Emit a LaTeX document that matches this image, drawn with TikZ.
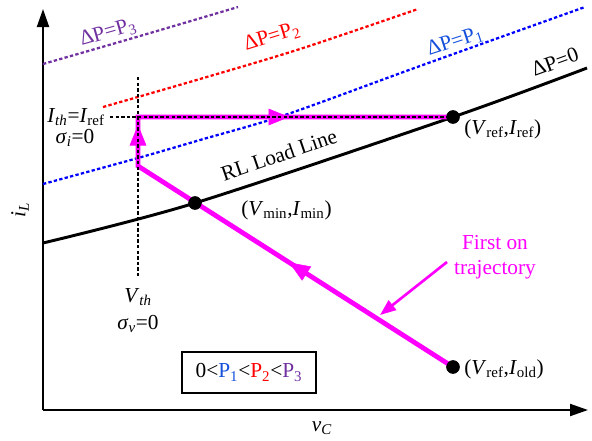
\documentclass[tikz,border=0pt]{standalone}
\usepackage{fontspec}
\setmainfont{Liberation Serif}
\usetikzlibrary{arrows.meta,decorations.markings}
\definecolor{mag}{RGB}{255,0,255}
\definecolor{pur}{RGB}{112,48,160}
\definecolor{rd}{RGB}{255,0,0}
\definecolor{bl}{RGB}{0,0,255}
\definecolor{blt}{RGB}{20,80,220}
\newcommand\mysub[1]{\textsubscript{#1}}
\begin{document}
\begin{tikzpicture}[x=0.75pt,y=-0.75pt,
  font=\fontsize{16}{19}\selectfont,
  lbl/.style={inner sep=0pt},
  dotline/.style={line width=1.7pt, dash pattern=on 2.5pt off 1.7pt},
  axis/.style={line width=1.5pt, -{Triangle[length=13.5pt,width=9pt]}},
  traj/.style={mag, line width=3.6pt, line join=miter},
  marr/.style={mag, postaction={decorate}, decoration={markings, mark=at position #1 with {\arrow{Triangle[length=15.5pt,width=12.5pt]}}}},
  dot/.style={circle, fill=black, inner sep=0pt, minimum size=10pt}]
\useasboundingbox (0,0) rectangle (592,440);
% axes
\coordinate (O) at (43,410);
\coordinate (ytip) at (43,9);
\coordinate (xtip) at (588,410);
\draw[axis] (O) -- (ytip);
\draw[axis] (O) -- (xtip);
\node[lbl, rotate=90] (iL) at (20,210) {\textit{i}\mysub{\textit{L}}};
\node[lbl] (vC) at (322,428) {\textit{v}\mysub{\textit{C}}};
% constant power curves
\draw[dotline, pur] plot[smooth] coordinates {(43,64) (140,36) (238,7)};
\draw[dotline, rd] plot[smooth] coordinates {(103,107) (200,79) (300,49) (418,9)};
\draw[dotline, bl] plot[smooth] coordinates {(43,184) (138,158) (200,140) (285,115) (420,66) (585,7)};
% load line
\draw[line width=2.2pt] plot[smooth] coordinates {(43,243) (195,203) (453,117) (587,68)};
% curve labels
\node[lbl, pur, rotate=16] (lp3) at (108,33) {ΔP=P\mysub{3}};
\node[lbl, rd, rotate=17] (lp2) at (272,37) {ΔP=P\mysub{2}};
\node[lbl, blt, rotate=18] (lp1) at (455,42) {ΔP=P\mysub{1}};
\node[lbl, rotate=20] (lp0) at (555,62) {ΔP=0};
\node[lbl, rotate=19] (rl) at (279,155) {RL Load Line};
% points
\coordinate (corner) at (138,166);
\coordinate (top) at (138,117);
\coordinate (vtop) at (138,77);
\coordinate (vbot) at (138,278);
\coordinate (hleft) at (110,117);
\node[dot] (pold) at (453,367) {};
\node[dot] (pref) at (453,117) {};
\node[dot] (pmin) at (195,203) {};
% trajectory
\draw[traj] (pold.center) -- (corner) -- (top) -- (pref.center);
\path[marr=0.52] (pold.center) -- (corner);
\path[marr=0.84] (corner) -- (top);
\path[marr=0.48] (top) -- (pref.center);
% threshold dotted lines
\draw[dotline] (vtop) -- (vbot);
\draw[dotline] (hleft) -- (pref.center);
% redraw dots on top
\node[dot] at (pold) {};
\node[dot] at (pref) {};
\node[dot] at (pmin) {};
% labels
\node[lbl, anchor=east] (ith) at (105,117) {\textit{I}\mysub{\textit{th}}=\textit{I}\mysub{ref}};
\node[lbl] (si) at (75,138) {\textit{σ}\mysub{\textit{i}}=0};
\node[lbl] (vth) at (138,297) {\textit{V}\mysub{\textit{th}}};
\node[lbl] (sv) at (138,324) {\textit{σ}\mysub{\textit{v}}=0};
\node[lbl, anchor=west] (lref) at (464,129) {(\textit{V}\mysub{ref},\textit{I}\mysub{ref})};
\node[lbl, anchor=west] (lmin) at (241,210) {(\textit{V}\mysub{min},\textit{I}\mysub{min})};
\node[lbl, anchor=west] (lold) at (464,369) {(\textit{V}\mysub{ref},\textit{I}\mysub{old})};
% annotation
\node[lbl, mag, align=center] (fot) at (495,257) {First on\\trajectory};
\coordinate (annstart) at (447,262);
\coordinate (anntip) at (380,315);
\draw[mag, line width=2pt, -{Triangle[length=12pt,width=9pt]}] (annstart) -- (anntip);
% legend box
\node[draw, line width=1.5pt, minimum width=100.5pt, minimum height=30.75pt, inner sep=0pt] (box) at (249,372.5)
  {0<\textcolor{blt}{P\mysub{1}}<\textcolor{rd}{P\mysub{2}}<\textcolor{pur}{P\mysub{3}}};
\end{tikzpicture}
\end{document}
